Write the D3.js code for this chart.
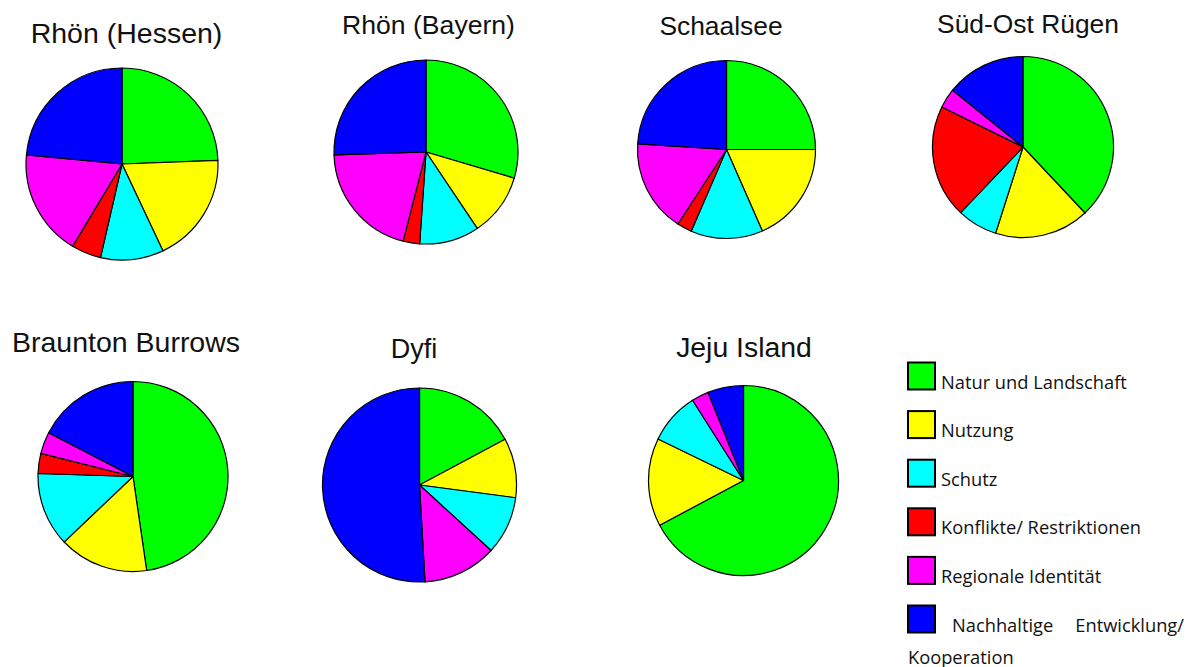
<!DOCTYPE html>
<html>
<head>
<meta charset="utf-8">
<script src="https://cdn.jsdelivr.net/npm/d3@7"></script>
<style>
  html, body { margin: 0; padding: 0; background: #fff; }
  svg { display: block; }
</style>
</head>
<body>
<svg id="chart" width="1192" height="667"></svg>
<script>
// ---- data ----
const categories = ["Natur und Landschaft", "Nutzung", "Schutz", "Konflikte/ Restriktionen", "Regionale Identität", "Nachhaltige Entwicklung/ Kooperation"];
const regions = ["Rhön (Hessen)", "Rhön (Bayern)", "Schaalsee", "Süd-Ost Rügen", "Braunton Burrows", "Dyfi", "Jeju Island"];
const rhoenHessen     = [24.4, 18.6, 10.6, 5.0, 17.9, 23.5];
const rhoenBayern     = [29.6, 11.0, 10.5, 2.9, 20.5, 25.5];
const schaalsee       = [25.0, 18.4, 13.1, 2.7, 16.8, 24.0];
const suedOstRuegen   = [38.0, 16.9, 7.2, 20.2, 3.5, 14.2];
const brauntonBurrows = [47.7, 15.2, 12.6, 3.4, 3.7, 17.4];
const dyfi            = [17.2, 9.9, 9.7, 0.0, 12.3, 50.9];
const jejuIsland      = [67.2, 15.0, 8.8, 0.0, 2.9, 6.1];
const seriesValues = [rhoenHessen, rhoenBayern, schaalsee, suedOstRuegen, brauntonBurrows, dyfi, jejuIsland];

// ---- layout / style ----
const colors = ["#00ff00", "#ffff00", "#00ffff", "#ff0000", "#ff00ff", "#0000ff"];
const layout = [
  { cx: 122,   cy: 164,   r: 96,   tx: 126.5, ty: 43,    fs: 28.5 },
  { cx: 426,   cy: 152,   r: 92,   tx: 428.5, ty: 34.3,  fs: 26.6 },
  { cx: 726.5, cy: 149.5, r: 89,   tx: 721,   ty: 35,    fs: 26.4 },
  { cx: 1023,  cy: 147,   r: 90.5, tx: 1028,  ty: 33.3,  fs: 26.4 },
  { cx: 133,   cy: 476.5, r: 95,   tx: 126,   ty: 351.7, fs: 28.5 },
  { cx: 419.5, cy: 485,   r: 97,   tx: 414,   ty: 358.3, fs: 27 },
  { cx: 743.5, cy: 480.5, r: 95,   tx: 744,   ty: 356.7, fs: 28.4 }
];

const svg = d3.select("#chart");
const color = d3.scaleOrdinal().domain(categories).range(colors);
const pie = d3.pie().sort(null).value(d => d.v);

regions.forEach((name, i) => {
  const L = layout[i];
  const data = seriesValues[i].map((v, k) => ({ cat: categories[k], v }));
  const arc = d3.arc().innerRadius(0).outerRadius(L.r);
  const g = svg.append("g").attr("transform", `translate(${L.cx},${L.cy})`);
  g.selectAll("path")
    .data(pie(data).filter(d => d.data.v > 0))
    .join("path")
    .attr("d", arc)
    .attr("fill", d => color(d.data.cat))
    .attr("stroke", "#000")
    .attr("stroke-width", 1.2)
    .attr("stroke-linejoin", "round");
  svg.append("text")
    .attr("x", L.tx).attr("y", L.ty)
    .attr("text-anchor", "middle")
    .attr("font-family", "Liberation Sans, Arial, sans-serif")
    .attr("font-size", L.fs)
    .attr("fill", "#111")
    .text(name);
});

// ---- legend ----
const legX = 908, legY0 = 362.5, legStep = 48.6, sq = 27;
const legFont = "'Open Sans', Lato, sans-serif";
const legSize = 18.3;
categories.forEach((c, k) => {
  const y = legY0 + k * legStep;
  svg.append("rect")
    .attr("x", legX).attr("y", y).attr("width", sq).attr("height", sq)
    .attr("fill", color(c)).attr("stroke", "#000").attr("stroke-width", 2);
  if (k < categories.length - 1) {
    svg.append("text")
      .attr("x", legX + 33).attr("y", y + sq - 1)
      .attr("font-family", legFont).attr("font-size", legSize).attr("fill", "#111")
      .text(c);
  } else {
    const parts = c.split(" ");
    svg.append("text")
      .attr("x", legX + 44).attr("y", y + sq - 1)
      .attr("font-family", legFont).attr("font-size", legSize).attr("fill", "#111")
      .text(parts[0]);
    svg.append("text")
      .attr("x", 1184).attr("y", y + sq - 1).attr("text-anchor", "end")
      .attr("font-family", legFont).attr("font-size", legSize).attr("fill", "#111")
      .text(parts[1]);
    svg.append("text")
      .attr("x", legX).attr("y", y + sq + 31)
      .attr("font-family", legFont).attr("font-size", legSize).attr("fill", "#111")
      .text(parts[2]);
  }
});
</script>
</body>
</html>
